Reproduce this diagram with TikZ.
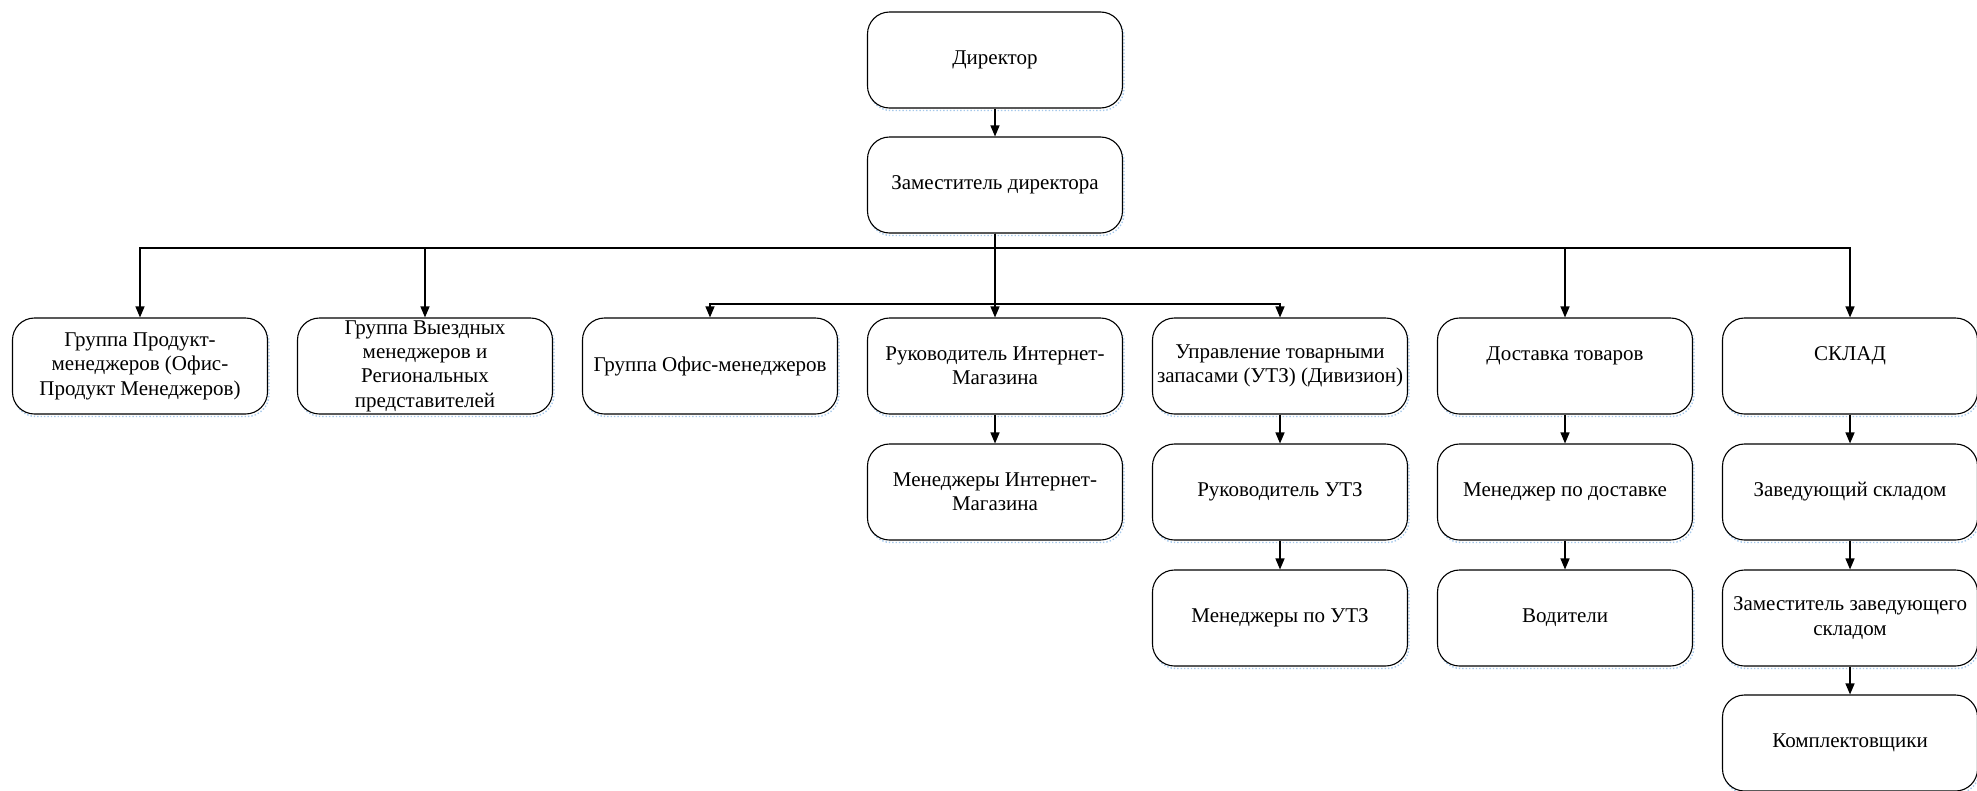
\documentclass[tikz,border=0pt]{standalone}
\usepackage{fontspec}
\setmainfont{Liberation Serif}
\newfontfamily\boxfont{Liberation Serif}
\usetikzlibrary{arrows.meta,shadows}
\definecolor{shblue}{RGB}{165,200,235}
\begin{document}
\begin{tikzpicture}[x=1pt,y=-1pt,
  unit/.style={draw=black, line width=1.1pt, fill=white, rounded corners=22pt,
    minimum width=255pt, minimum height=96pt, inner sep=0pt, align=center,
    font=\boxfont\rmfamily\fontsize{21}{24.4}\selectfont,
    general shadow={draw=shblue, dotted, line width=1.4pt, shadow xshift=1.5pt, shadow yshift=-2.5pt}},
  link/.style={draw=black, line width=1.3pt, -{Triangle[length=11pt,width=9pt]}}]
\useasboundingbox (0,0) rectangle (1977,790);

% top
\node[unit] (dir) at (995,60) {Директор};
\node[unit] (dep) at (995,185) {Заместитель директора};

% row 1
\node[unit] (g1) at (140,366) {Группа Продукт-\\менеджеров (Офис-\\Продукт Менеджеров)};
\node[unit] (g2) at (425,366) {Группа Выездных\\менеджеров и\\Региональных\\представителей};
\node[unit] (g3) at (710,366) {Группа Офис-менеджеров};
\node[unit] (g4) at (995,366) {Руководитель Интернет-\\Магазина};
\node[unit] (g5) at (1280,366) {Управление товарными\\запасами (УТЗ) (Дивизион)};
\node[unit] (g6) at (1565,366) {Доставка товаров\\\mbox{}};
\node[unit] (g7) at (1850,366) {СКЛАД\\\mbox{}};

% row 2
\node[unit] (h4) at (995,492) {Менеджеры Интернет-\\Магазина};
\node[unit] (h5) at (1280,492) {Руководитель УТЗ};
\node[unit] (h6) at (1565,492) {Менеджер по доставке};
\node[unit] (h7) at (1850,492) {Заведующий складом};

% row 3
\node[unit] (k5) at (1280,618) {Менеджеры по УТЗ};
\node[unit] (k6) at (1565,618) {Водители};
\node[unit] (k7) at (1850,618) {Заместитель заведующего\\складом};

% row 4
\node[unit] (m7) at (1850,743) {Комплектовщики};

% connectors
\coordinate (bus1) at (995,248);
\coordinate (bus2) at (995,304);
\draw[link] (dir) -- (dep);
\draw[link] (dep.south) -- (bus1) -| (g1.north);
\draw[link] (dep.south) -- (bus1) -| (g2.north);
\draw[link] (dep.south) -- (bus1) -| (g6.north);
\draw[link] (dep.south) -- (bus1) -| (g7.north);
\draw[link] (dep.south) -- (bus2) -| (g3.north);
\draw[link] (dep.south) -- (bus2) -| (g5.north);
\draw[link] (dep) -- (g4);
\draw[link] (g4) -- (h4);
\draw[link] (g5) -- (h5);
\draw[link] (h5) -- (k5);
\draw[link] (g6) -- (h6);
\draw[link] (h6) -- (k6);
\draw[link] (g7) -- (h7);
\draw[link] (h7) -- (k7);
\draw[link] (k7) -- (m7);
\end{tikzpicture}
\end{document}
